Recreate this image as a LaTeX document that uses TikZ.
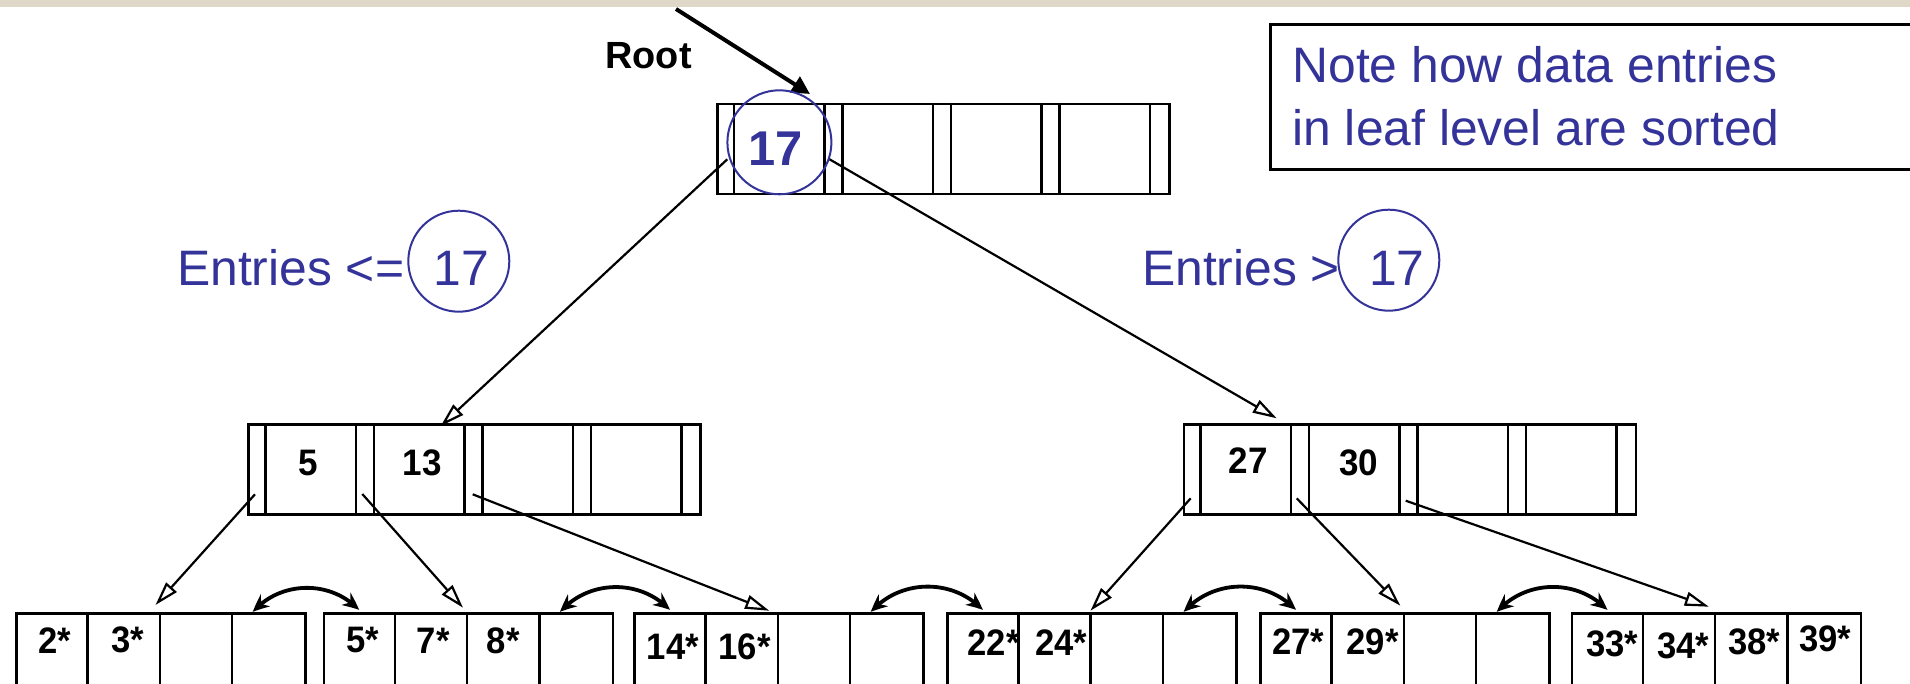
\documentclass[tikz,border=0pt]{standalone}
\usepackage{fontspec}
\setmainfont{Liberation Sans}
\usepackage{graphicx}
\usetikzlibrary{arrows.meta,bending,calc}
\definecolor{slideblue}{RGB}{51,51,153}
\definecolor{bandtan}{RGB}{223,216,200}

\begin{document}
\begin{tikzpicture}[x=0.5bp,y=-0.5bp,
  box/.style={draw=black, line width=1.25bp, inner sep=0pt, anchor=north west},
  sep/.style={draw=black, line width=1.25bp},
  idx/.style={box, minimum width=226bp, minimum height=45bp},
  leafbox/.style={box, minimum width=144.5bp, minimum height=50bp},
  ptr/.style={line width=1.1bp, -{Triangle[open, length=12bp, width=7bp]}},
  sib/.style={line width=1.9bp, {Stealth[length=8.5bp, width=7.5bp, bend]}-{Stealth[length=8.5bp, width=7.5bp, bend]}},
  ring/.style={circle, draw=slideblue, line width=1bp, inner sep=0pt},
  keytxt/.style={font=\fontsize{18.5}{20}\selectfont\bfseries, inner sep=0pt, anchor=base},
  leaftxt/.style={font=\fontsize{18.5}{20}\selectfont\bfseries, inner sep=0pt, anchor=base},
  bluetxt/.style={font=\fontsize{25}{30}\selectfont, text=slideblue, inner sep=0pt},
]
\useasboundingbox (0,0) rectangle (1910,683);
\clip (0,0) rectangle (1910,683);
\fill[white] (0,0) rectangle (1910,683);
\fill[bandtan] (0,0) rectangle (1910,7.5);

% note box (runs past the right edge)
\node[box, line width=1.5bp, minimum width=340bp, minimum height=72.2bp] (notebox) at (1269,23.3) {};
\node[bluetxt, anchor=base west] (note1) at (1292,82.7) {Note how data entries};
\node[bluetxt, anchor=base west] (note2) at (1292,145) {in leaf level are sorted};

% index nodes: pointer slot, key slot, pointer slot, ...
\node[idx] (root) at (716,102.7) {};
\node[idx] (left) at (247.3,423.3) {};
\node[idx] (right) at (1182.7,423.3) {};
\foreach \n in {root,left,right}
  \foreach \dx in {18,108.5,126.5,217,235,325.5,343.5,434}
    \draw[sep] ($(\n.north west)+(\dx,0)$) -- ($(\n.south west)+(\dx,0)$);

% leaf pages
\foreach \n/\x in {leaf1/15.3, leaf2/322.5, leaf3/633.3, leaf4/946.2, leaf5/1259.3, leaf6/1570.7}{
  \node[leafbox] (\n) at (\x,612) {};
  \foreach \dx in {72.25,144.5,216.75}
    \draw[sep] ($(\n.north west)+(\dx,0)$) -- ($(\n.north west)+(\dx,100)$);
}

% root label and arrow
\node[font=\fontsize{19}{21}\selectfont\bfseries, inner sep=0pt, anchor=base west] (rootlbl) at (605,68) {Root};
\coordinate (rootfrom) at (676,9);
\coordinate (rootto) at (810,94);
\draw[line width=2bp, -{Triangle[length=9bp, width=9bp]}] (rootfrom) -- (rootto);

% key in root
\node[ring, minimum size=52bp] (rootring) at (779.4,142.3) {};
\node[font=\fontsize{24.5}{26}\selectfont\bfseries, text=slideblue, inner sep=0pt, anchor=base] (rootkey) at (775.6,165) {17};

% keys in index nodes
\node[keytxt] (k5) at (308.7,475) {\scalebox{0.95}[1]{5}};
\node[keytxt] (k13) at (422,475) {\scalebox{0.95}[1]{13}};
\node[keytxt] (k27) at (1248,473.3) {\scalebox{0.95}[1]{27}};
\node[keytxt] (k30) at (1358.8,475.7) {\scalebox{0.95}[1]{30}};

% range labels
\node[bluetxt, anchor=base west] (lelbl) at (176.7,285) {Entries <=};
\node[ring, minimum size=50.5bp] (lering) at (458.8,261.2) {};
\node[bluetxt, anchor=base] (lekey) at (461,285) {17};
\node[bluetxt, anchor=base west] (gtlbl) at (1141.7,285) {Entries >};
\node[ring, minimum size=50.5bp] (gtring) at (1388.8,260.2) {};
\node[bluetxt, anchor=base] (gtkey) at (1396.7,285) {17};

% data entries
\foreach \t/\x/\y in {2*/55/653.3, 3*/128/652,
    5*/362.5/652, 7*/433.2/653, 8*/503.3/653,
    14*/673/659, 16*/744.7/659,
    22*/993.7/655, 24*/1061/655,
    27*/1298/654.3, 29*/1372.7/654,
    33*/1612/656.7, 34*/1683.1/658, 38*/1754/654, 39*/1825.2/651.7}
  \node[leaftxt] at (\x,\y) {\scalebox{0.94}[1]{\t}};

% child pointers
\coordinate (r0) at (727.3,159.3);
\coordinate (r1) at (829.5,159.3);
\coordinate (l0) at (255,494.3);
\coordinate (l1) at (362.3,494);
\coordinate (l2) at (472.7,494.3);
\coordinate (g0) at (1190.7,498.3);
\coordinate (g1) at (1296.7,498.3);
\coordinate (g2) at (1405.7,500.7);
\coordinate (lefttop) at (440.7,426);
\coordinate (righttop) at (1276.7,418.3);
\coordinate (t1) at (155.5,605);
\coordinate (t2) at (463,607.7);
\coordinate (t3) at (769.2,610.7);
\coordinate (t4) at (1090.5,610.7);
\coordinate (t5) at (1400.3,605.7);
\coordinate (t6) at (1708.8,606.7);
\draw[ptr] (r0) -- (lefttop);
\draw[ptr] (r1) -- (righttop);
\draw[ptr] (l0) -- (t1);
\draw[ptr] (l1) -- (t2);
\draw[ptr] (l2) -- (t3);
\draw[ptr] (g0) -- (t4);
\draw[ptr] (g1) -- (t5);
\draw[ptr] (g2) -- (t6);

% sibling links between leaf pages
\foreach \a/\b in {leaf1/leaf2, leaf2/leaf3, leaf3/leaf4, leaf4/leaf5, leaf5/leaf6}
  \draw[sib] ($(\a.north west)+(237.6,0)$) to[bend left=48] ($(\b.north west)+(36.5,-2)$);
\end{tikzpicture}
\end{document}
